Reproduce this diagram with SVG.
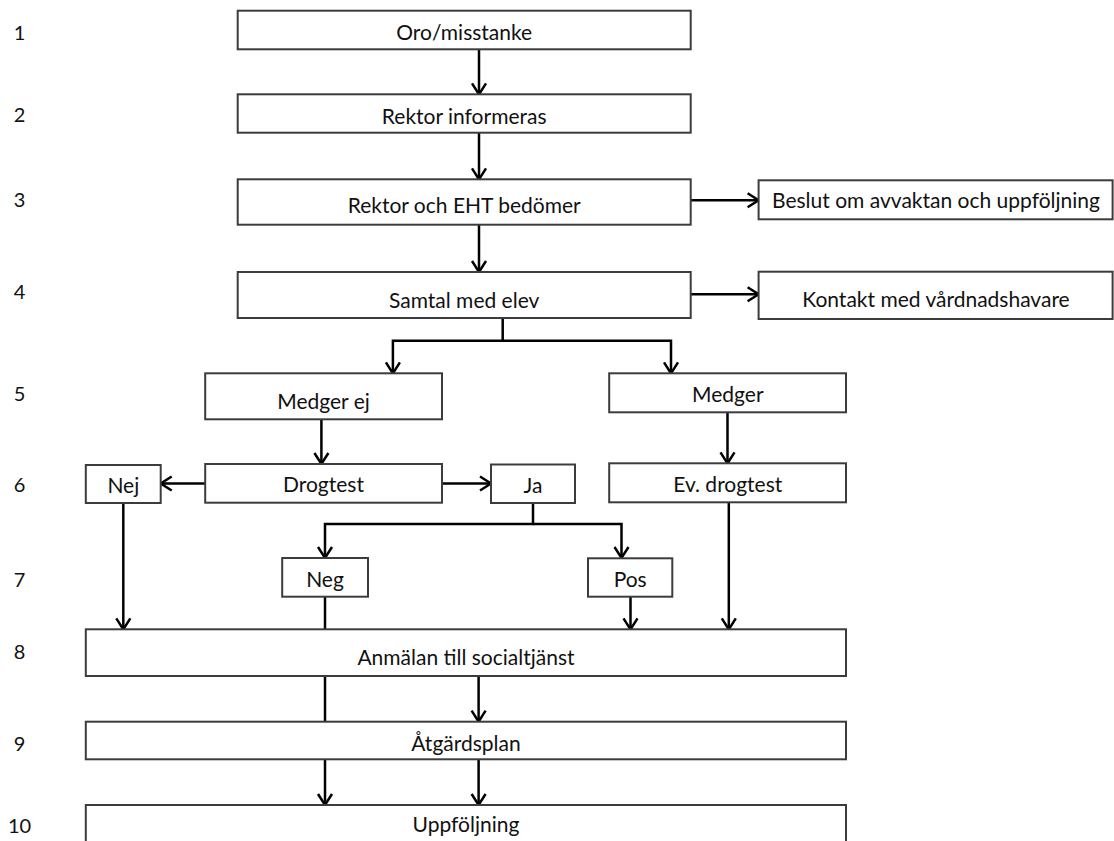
<svg xmlns="http://www.w3.org/2000/svg" width="1114" height="841" viewBox="0 0 1114 841">
<style>
.box{fill:#fff;stroke:#3c3c3c;stroke-width:2}
.t{font-family:Lato,"Liberation Sans",sans-serif;font-size:21px;fill:#111;text-anchor:middle}
.lbl{font-family:Lato,"Liberation Sans",sans-serif;font-size:20px;fill:#111;text-anchor:middle}
.c{fill:none;stroke:#000;stroke-width:2.5}
.a{marker-end:url(#arr)}
</style>
<defs>
<marker id="arr" markerUnits="userSpaceOnUse" markerWidth="18" markerHeight="18" viewBox="0 0 18 18" refX="15" refY="9" orient="auto">
<path d="M4,2 L15,9 L4,16" fill="none" stroke="#000" stroke-width="2.5"/>
</marker>
</defs>
<rect width="1114" height="841" fill="#fff"/>
<g id="labels">
<text class="lbl" x="19.5" y="40">1</text>
<text class="lbl" x="19.5" y="122">2</text>
<text class="lbl" x="19.5" y="207">3</text>
<text class="lbl" x="19.5" y="299">4</text>
<text class="lbl" x="19.5" y="401">5</text>
<text class="lbl" x="19.5" y="492">6</text>
<text class="lbl" x="19.5" y="587">7</text>
<text class="lbl" x="19.5" y="659">8</text>
<text class="lbl" x="19.5" y="751">9</text>
<text class="lbl" x="19.5" y="833">10</text>
</g>
<g id="connectors">
<path class="c a" d="M479,49.3 V94.3"/>
<path class="c a" d="M479,132.7 V179.3"/>
<path class="c a" d="M479,224.7 V272"/>
<path class="c a" d="M690.7,200.3 H758.6"/>
<path class="c a" d="M690.7,294.3 H758.6"/>
<path class="c a" d="M502.7,318 V340.7 H392.9 V373.3"/>
<path class="c a" d="M502.7,340.7 H671 V373.3"/>
<path class="c a" d="M321.4,419.3 V464"/>
<path class="c a" d="M205,483.5 H160.7"/>
<path class="c a" d="M442,483.5 H491"/>
<path class="c a" d="M727.5,412.3 V463.3"/>
<path class="c a" d="M533,503 V524 H325 V558"/>
<path class="c a" d="M533,524 H621.5 V558"/>
<path class="c a" d="M123.3,503 V629.3"/>
<path class="c" d="M325,596.7 V629.3"/>
<path class="c a" d="M630.5,596.7 V629.3"/>
<path class="c a" d="M728.8,502.3 V629.3"/>
<path class="c" d="M325,676 V721.7"/>
<path class="c a" d="M478.6,676 V721.7"/>
<path class="c a" d="M325,759.3 V805"/>
<path class="c a" d="M478.6,759.3 V805"/>
</g>
<g id="n1"><rect class="box" x="237.7" y="10.7" width="453" height="38.6"/><text class="t" x="464.2" y="40">Oro/misstanke</text></g>
<g id="n2"><rect class="box" x="237.7" y="94.3" width="453" height="38.4"/><text class="t" x="464.2" y="124">Rektor informeras</text></g>
<g id="n3"><rect class="box" x="237.7" y="179.3" width="453" height="45.4"/><text class="t" x="464.2" y="213.3">Rektor och EHT bedömer</text></g>
<g id="n3b"><rect class="box" x="758.6" y="180.3" width="354" height="39"/><text class="t" x="936" y="208.3">Beslut om avvaktan och uppföljning</text></g>
<g id="n4"><rect class="box" x="237.7" y="272" width="453" height="46"/><text class="t" x="464.2" y="308">Samtal med elev</text></g>
<g id="n4b"><rect class="box" x="758.6" y="271.7" width="354" height="47.3"/><text class="t" x="936" y="307.3">Kontakt med vårdnadshavare</text></g>
<g id="n5a"><rect class="box" x="205.2" y="373.3" width="236.8" height="46"/><text class="t" x="323.5" y="409">Medger ej</text></g>
<g id="n5b"><rect class="box" x="609.2" y="373.3" width="236.8" height="39"/><text class="t" x="727.8" y="401.7">Medger</text></g>
<g id="n6a"><rect class="box" x="85.8" y="465" width="74.9" height="38"/><text class="t" x="123.3" y="493">Nej</text></g>
<g id="n6b"><rect class="box" x="205.2" y="464" width="236.8" height="38.7"/><text class="t" x="323.5" y="492.3">Drogtest</text></g>
<g id="n6c"><rect class="box" x="491" y="464.5" width="84" height="38.5"/><text class="t" x="533" y="492.7">Ja</text></g>
<g id="n6d"><rect class="box" x="609.2" y="463.3" width="236.8" height="39"/><text class="t" x="727.8" y="492.3">Ev. drogtest</text></g>
<g id="n7a"><rect class="box" x="282.2" y="558" width="85.8" height="38.7"/><text class="t" x="325" y="586.7">Neg</text></g>
<g id="n7b"><rect class="box" x="588" y="558.3" width="84.3" height="38.4"/><text class="t" x="630.2" y="586.7">Pos</text></g>
<g id="n8"><rect class="box" x="85.8" y="629.3" width="760.2" height="46.7"/><text class="t" x="466" y="665">Anmälan till socialtjänst</text></g>
<g id="n9"><rect class="box" x="85.8" y="721.7" width="760.2" height="37.6"/><text class="t" x="466" y="750.7">Åtgärdsplan</text></g>
<g id="n10"><rect class="box" x="85.8" y="805" width="760.2" height="44"/><text class="t" x="466" y="831.7">Uppföljning</text></g>
</svg>
